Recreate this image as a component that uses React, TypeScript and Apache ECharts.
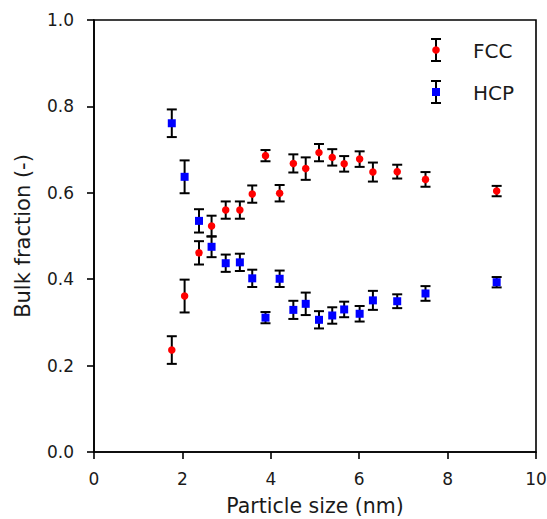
import React, { useEffect, useRef } from "react";
import * as echarts from "echarts";

const sizes = [1.76, 2.05, 2.375, 2.66, 2.98, 3.30, 3.58, 3.88, 4.20, 4.51, 4.79, 5.09, 5.39, 5.66, 6.01, 6.31, 6.86, 7.50, 9.11];
const fcc = [0.236, 0.361, 0.461, 0.523, 0.560, 0.560, 0.597, 0.686, 0.599, 0.668, 0.656, 0.693, 0.682, 0.667, 0.678, 0.648, 0.649, 0.631, 0.604];
const hcp = [0.761, 0.637, 0.535, 0.475, 0.437, 0.439, 0.402, 0.311, 0.401, 0.329, 0.343, 0.306, 0.316, 0.330, 0.320, 0.351, 0.349, 0.367, 0.393];
const errs = [0.032, 0.038, 0.027, 0.024, 0.020, 0.020, 0.020, 0.013, 0.019, 0.021, 0.026, 0.020, 0.019, 0.018, 0.018, 0.022, 0.016, 0.017, 0.012];
const seriesNames = ["FCC", "HCP"];
const xTitle = "Particle size (nm)";
const yTitle = "Bulk fraction (-)";

const FONT = "DejaVu Sans";
const TXT = "#1a1a1a";

function errData(vals: number[]) {
  return sizes.map((x, i) => [x, vals[i] - errs[i], vals[i] + errs[i]]);
}

function errRender(params: any, api: any) {
  const x = api.value(0);
  const lo = api.coord([x, api.value(1)]);
  const hi = api.coord([x, api.value(2)]);
  const cap = 5;
  const style = { stroke: "#000", lineWidth: 2 };
  return {
    type: "group",
    children: [
      { type: "line", shape: { x1: lo[0], y1: lo[1], x2: hi[0], y2: hi[1] }, style },
      { type: "line", shape: { x1: lo[0] - cap, y1: lo[1], x2: lo[0] + cap, y2: lo[1] }, style },
      { type: "line", shape: { x1: hi[0] - cap, y1: hi[1], x2: hi[0] + cap, y2: hi[1] }, style },
    ],
  };
}

function legendItem(y: number, name: string, color: string, square: boolean) {
  const cx = 436;
  const st = { stroke: "#000", lineWidth: 2 };
  return [
    { type: "line", shape: { x1: cx, y1: y - 11, x2: cx, y2: y + 11 }, style: st, z: 10 },
    { type: "line", shape: { x1: cx - 5, y1: y - 11, x2: cx + 5, y2: y - 11 }, style: st, z: 10 },
    { type: "line", shape: { x1: cx - 5, y1: y + 11, x2: cx + 5, y2: y + 11 }, style: st, z: 10 },
    square
      ? { type: "rect", shape: { x: cx - 4, y: y - 4, width: 8, height: 8 }, style: { fill: color }, z: 11 }
      : { type: "circle", shape: { cx, cy: y, r: 3.8 }, style: { fill: color }, z: 11 },
    {
      type: "text",
      x: 473,
      y: y + 1,
      style: { text: name, fill: TXT, font: `20px "${FONT}"`, verticalAlign: "middle", align: "left" },
      z: 11,
    },
  ];
}

export default function App() {
  const ref = useRef<HTMLDivElement>(null);
  useEffect(() => {
    document.body.style.margin = "0";
    const chart = echarts.init(ref.current!, undefined, { renderer: "svg" });
    chart.setOption({
      animation: false,
      backgroundColor: "#fff",
      textStyle: { fontFamily: FONT },
      grid: {
        left: 94, right: 11, top: 20, bottom: 67,
        containLabel: false, outerBoundsMode: "none",
        show: true, borderColor: "#000", borderWidth: 1.6, backgroundColor: "transparent",
      },
      xAxis: {
        type: "value",
        min: 0,
        max: 10,
        interval: 2,
        name: xTitle,
        nameLocation: "middle",
        nameGap: 45,
        nameTextStyle: { fontSize: 20.5, lineHeight: 18, color: TXT, fontFamily: FONT },
        axisLine: { show: true, onZero: false, lineStyle: { color: "#000", width: 1.6 } },
        axisTick: { show: true, inside: false, length: 7, lineStyle: { color: "#000", width: 1.6 } },
        axisLabel: { fontSize: 17, color: TXT, margin: 18, fontFamily: FONT },
        splitLine: { show: false },
      },
      yAxis: {
        type: "value",
        min: 0,
        max: 1,
        interval: 0.2,
        name: yTitle,
        nameLocation: "middle",
        nameGap: 61,
        nameTextStyle: { fontSize: 21, color: TXT, fontFamily: FONT },
        axisLine: { show: true, onZero: false, lineStyle: { color: "#000", width: 1.6 } },
        axisTick: { show: true, inside: false, length: 7, lineStyle: { color: "#000", width: 1.6 } },
        axisLabel: { fontSize: 17, color: TXT, margin: 20, fontFamily: FONT, formatter: (v: number) => v.toFixed(1) },
        splitLine: { show: false },
      },
      series: [
        { type: "custom", name: "fccErr", data: errData(fcc), encode: { x: 0, y: [1, 2] }, renderItem: errRender, z: 2, silent: true },
        { type: "custom", name: "hcpErr", data: errData(hcp), encode: { x: 0, y: [1, 2] }, renderItem: errRender, z: 2, silent: true },
        { type: "scatter", name: seriesNames[0], data: sizes.map((x, i) => [x, fcc[i]]), symbol: "circle", symbolSize: 7.5, itemStyle: { color: "#ff0000", opacity: 1 }, z: 5 },
        { type: "scatter", name: seriesNames[1], data: sizes.map((x, i) => [x, hcp[i]]), symbol: "rect", symbolSize: 8, itemStyle: { color: "#0000ff", opacity: 1 }, z: 5 },
      ],
      graphic: [...legendItem(50, seriesNames[0], "#ff0000", false), ...legendItem(92, seriesNames[1], "#0000ff", true)],
    });
    return () => chart.dispose();
  }, []);
  return <div ref={ref} style={{ width: 547, height: 519 }} />;
}
